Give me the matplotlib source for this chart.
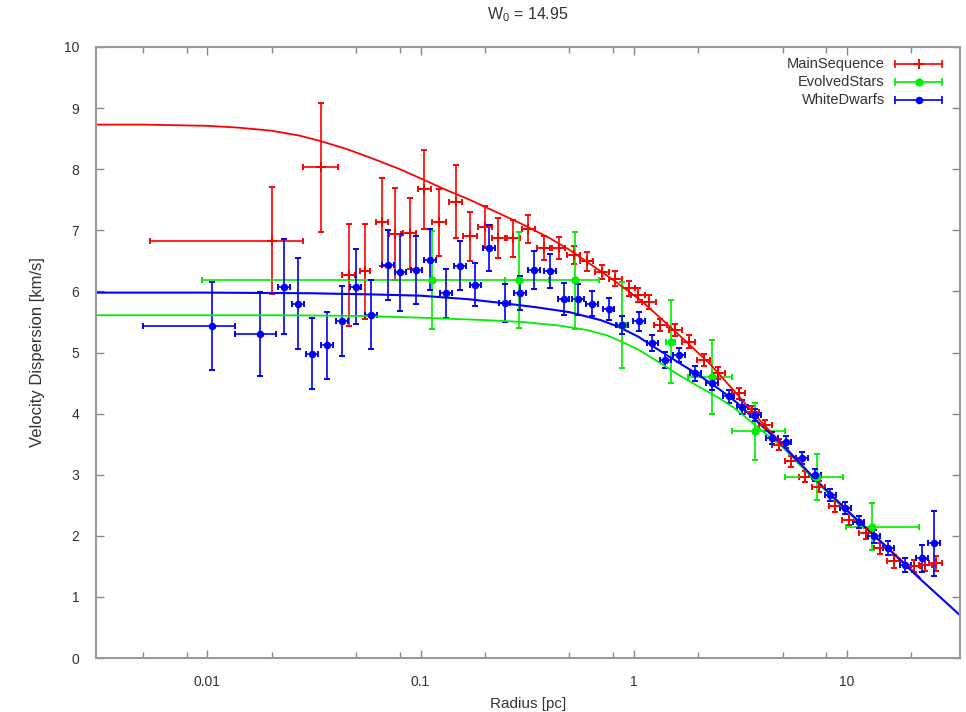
import numpy as np
import matplotlib
matplotlib.use('Agg')
import matplotlib.pyplot as plt

plt.rcParams['font.family'] = ['Liberation Sans', 'DejaVu Sans']

# MainSequence data
ms_r = [0.02, 0.034, 0.046, 0.055, 0.066, 0.076, 0.089, 0.104, 0.122, 0.146, 0.171, 0.201,
        0.232, 0.273, 0.321, 0.378, 0.445, 0.523, 0.601, 0.71, 0.82, 0.95, 1.05, 1.18, 1.33,
        1.57, 1.81, 2.13, 2.5, 3.11, 3.59, 4.15, 4.79, 5.5, 6.4, 7.39, 8.84, 10.2, 12.3, 14.4,
        16.6, 20.6, 23.4, 26.1]
ms_r_lo = [0.0054, 0.028, 0.043, 0.052, 0.062, 0.071, 0.083, 0.097, 0.113, 0.136, 0.159, 0.187,
           0.216, 0.254, 0.299, 0.352, 0.414, 0.486, 0.559, 0.66, 0.763, 0.884, 0.977, 1.10, 1.24,
           1.46, 1.68, 1.98, 2.33, 2.89, 3.34, 3.86, 4.45, 5.12, 5.95, 6.87, 8.22, 9.49, 11.4, 13.4,
           15.4, 19.2, 21.8, 24.3]
ms_r_hi = [0.028, 0.041, 0.049, 0.058, 0.070, 0.081, 0.095, 0.112, 0.131, 0.157, 0.184, 0.216,
           0.249, 0.293, 0.345, 0.406, 0.478, 0.562, 0.646, 0.763, 0.881, 1.02, 1.13, 1.27, 1.43,
           1.69, 1.95, 2.29, 2.69, 3.34, 3.86, 4.46, 5.15, 5.91, 6.88, 7.94, 9.5, 10.97, 13.2, 15.5,
           17.8, 22.1, 25.2, 28.1]
ms_v = [6.83, 8.03, 6.27, 6.33, 7.14, 6.94, 6.95, 7.67, 7.13, 7.47, 6.9, 7.06, 6.87, 6.87, 7.02,
        6.71, 6.71, 6.6, 6.49, 6.32, 6.21, 6.05, 5.94, 5.83, 5.45, 5.37, 5.18, 4.88, 4.66, 4.33,
        4.03, 3.81, 3.49, 3.22, 2.97, 2.8, 2.48, 2.26, 2.04, 1.8, 1.58, 1.5, 1.52, 1.55]
ms_err = [0.88, 1.05, 0.83, 0.78, 0.72, 0.75, 0.58, 0.65, 0.55, 0.6, 0.4, 0.33, 0.33, 0.3, 0.23,
          0.2, 0.18, 0.15, 0.15, 0.12, 0.12, 0.12, 0.11, 0.11, 0.1, 0.1, 0.1, 0.1, 0.1, 0.09,
          0.09, 0.09, 0.09, 0.09, 0.09, 0.09, 0.09, 0.09, 0.09, 0.09, 0.1, 0.1, 0.1, 0.12]

# EvolvedStars data
es_r = [0.113, 0.29, 0.53, 0.88, 1.49, 2.33, 3.73, 7.26, 13.1]
es_r_lo = [0.0094, 0.25, 0.40, 0.84, 1.42, 1.8, 2.89, 5.15, 9.9]
es_r_hi = [0.25, 0.40, 0.69, 0.92, 1.56, 2.9, 5.15, 9.65, 21.8]
es_v = [6.19, 6.19, 6.18, 5.45, 5.18, 4.6, 3.71, 2.96, 2.15]
es_err = [0.8, 0.79, 0.8, 0.7, 0.68, 0.6, 0.47, 0.38, 0.38]

# WhiteDwarfs data
wd_r = [0.0105, 0.0177, 0.0228, 0.0266, 0.0309, 0.0363, 0.0427, 0.0496, 0.0585, 0.0703, 0.0804,
        0.0955, 0.111, 0.131, 0.153, 0.181, 0.209, 0.248, 0.292, 0.34, 0.404, 0.469, 0.547,
        0.638, 0.763, 0.881, 1.06, 1.22, 1.41, 1.63, 1.95, 2.33, 2.79, 3.23, 3.72, 4.46, 5.16,
        6.17, 7.1, 8.38, 9.86, 11.4, 13.4, 15.7, 18.8, 22.5, 25.6]
wd_r_lo = [0.005, 0.0135, 0.0214, 0.025, 0.029, 0.0341, 0.0401, 0.0466, 0.055, 0.0661, 0.0756,
           0.0898, 0.104, 0.123, 0.144, 0.17, 0.196, 0.233, 0.274, 0.32, 0.38, 0.441, 0.514,
           0.6, 0.717, 0.828, 0.996, 1.15, 1.33, 1.53, 1.83, 2.19, 2.62, 3.04, 3.5, 4.19, 4.85,
           5.8, 6.67, 7.88, 9.27, 10.7, 12.6, 14.8, 17.7, 21.2, 24.1]
wd_r_hi = [0.0135, 0.0209, 0.0243, 0.0283, 0.0329, 0.0387, 0.0455, 0.0528, 0.0623, 0.0749, 0.0856,
           0.1017, 0.118, 0.14, 0.163, 0.193, 0.223, 0.264, 0.311, 0.362, 0.43, 0.5, 0.583,
           0.68, 0.813, 0.938, 1.13, 1.3, 1.5, 1.74, 2.08, 2.48, 2.97, 3.44, 3.96, 4.75, 5.5,
           6.57, 7.56, 8.92, 10.5, 12.1, 14.3, 16.7, 20.0, 24.0, 27.3]
wd_v = [5.43, 5.3, 6.08, 5.8, 4.98, 5.12, 5.52, 6.08, 5.62, 6.43, 6.31, 6.35, 6.52, 5.97, 6.42,
        6.11, 6.71, 5.81, 5.98, 6.35, 6.33, 5.87, 5.87, 5.8, 5.72, 5.45, 5.51, 5.15, 4.88, 4.96,
        4.66, 4.5, 4.28, 4.11, 3.98, 3.6, 3.54, 3.27, 3.0, 2.67, 2.45, 2.23, 1.99, 1.8, 1.52,
        1.63, 1.88]
wd_err = [0.72, 0.69, 0.77, 0.74, 0.58, 0.55, 0.57, 0.62, 0.57, 0.57, 0.63, 0.55, 0.5, 0.4, 0.4,
          0.35, 0.38, 0.31, 0.28, 0.31, 0.28, 0.26, 0.25, 0.2, 0.18, 0.15, 0.15, 0.13, 0.13, 0.12,
          0.12, 0.11, 0.11, 0.11, 0.1, 0.1, 0.1, 0.1, 0.1, 0.1, 0.1, 0.1, 0.1, 0.11, 0.12, 0.22,
          0.53]

# model curves
ms_model_r = [0.003, 0.005, 0.007, 0.01, 0.014, 0.02, 0.027, 0.034, 0.045, 0.06, 0.08, 0.1,
              0.13, 0.17, 0.22, 0.3, 0.4, 0.5, 0.6, 0.75, 0.9, 1.1, 1.4, 1.8, 2.3, 3.0, 4.0,
              5, 7, 10, 15, 22]
ms_model_v = [8.73, 8.73, 8.72, 8.71, 8.68, 8.63, 8.55, 8.46, 8.33, 8.17, 8.0, 7.85,
              7.67, 7.5, 7.32, 7.1, 6.88, 6.68, 6.49, 6.26, 6.06, 5.83, 5.5, 5.15, 4.8, 4.35, 3.85,
              3.5, 2.95, 2.42, 1.86, 1.32]
es_model_r = [0.003, 0.02, 0.05, 0.1, 0.2, 0.3, 0.45, 0.6, 0.75, 0.85, 1.05, 1.3, 1.6, 2.0,
              2.5, 3.0, 4, 5, 7, 10, 15]
es_model_v = [5.61, 5.61, 5.6, 5.57, 5.53, 5.5, 5.44, 5.37, 5.28, 5.2, 5.05, 4.85, 4.65, 4.45,
              4.26, 4.08, 3.72, 3.45, 2.93, 2.4, 1.85]
wd_model_r = [0.003, 0.01, 0.03, 0.06, 0.1, 0.17, 0.24, 0.35, 0.5, 0.7, 0.85, 1.05, 1.3, 1.6,
              2.0, 2.5, 3.0, 4, 5, 7, 10, 15, 22, 34]
wd_model_v = [5.98, 5.98, 5.97, 5.95, 5.93, 5.87, 5.81, 5.74, 5.66, 5.53, 5.42, 5.26, 5.05, 4.85,
              4.64, 4.41, 4.2, 3.8, 3.48, 2.95, 2.42, 1.85, 1.3, 0.7]

RED, GREEN, BLUE = '#ff0000', '#00ee00', '#0000ff'
TXT = '#333333'

fig = plt.figure(figsize=(9.66, 7.12), dpi=100)
ax = fig.add_axes([96/966, 1 - 658/712, 864/966, 611/712])


def draw(r, lo, hi, v, err, col, mk, size):
    r = np.array(r)
    xe = [r - np.array(lo), np.array(hi) - r]
    ax.errorbar(r, v, xerr=xe, yerr=err, fmt=mk, color=col, ms=size, mew=1.4,
                elinewidth=1.2, capsize=2.5, capthick=1.2)


draw(ms_r, ms_r_lo, ms_r_hi, ms_v, ms_err, RED, '+', 6.5)
draw(es_r, es_r_lo, es_r_hi, es_v, es_err, GREEN, 'o', 4.5)
draw(wd_r, wd_r_lo, wd_r_hi, wd_v, wd_err, BLUE, 'o', 4)

ax.plot(ms_model_r, ms_model_v, color=RED, lw=1.3)
ax.plot(es_model_r, es_model_v, color=GREEN, lw=1.3)
ax.plot(wd_model_r, wd_model_v, color=BLUE, lw=1.5)

ax.set_xscale('log')
ax.set_xlim(0.003, 34)
ax.set_ylim(0, 10)

ax.set_xticks([0.01, 0.1, 1, 10])
ax.set_xticklabels(['0.01', '0.1', '1', '10'])
minors = [m * d for d in [0.001, 0.01, 0.1, 1, 10] for m in (2, 5, 8)]
ax.set_xticks([m for m in minors if 0.003 < m < 34], minor=True)
ax.set_yticks(range(0, 11))

for s in ax.spines.values():
    s.set_color('#999999')
    s.set_linewidth(1.5)
ax.tick_params(which='both', direction='in', top=True, right=True, colors='#888888',
               labelcolor=TXT, labelsize=10)
ax.tick_params(which='major', length=6, width=1)
ax.tick_params(which='minor', length=4, width=1)
ax.tick_params(axis='x', pad=12)
ax.tick_params(axis='y', pad=12)

ax.set_xlabel('Radius [pc]', fontsize=11, color=TXT, labelpad=6)
ax.set_ylabel('Velocity Dispersion [km/s]', fontsize=12, color=TXT, labelpad=14)
ax.text(0.5, 1 + 32/611, r'$\mathregular{W_0}$ = 14.95', transform=ax.transAxes,
        ha='center', va='center', fontsize=11.5, color=TXT)

# legend drawn by hand so the text is right aligned like gnuplot
labels = ['MainSequence', 'EvolvedStars', 'WhiteDwarfs']
cols = [RED, GREEN, BLUE]
marks = [('+', 6.5), ('o', 4.5), ('o', 4)]
rows = [0.972, 0.943, 0.913]
for lab, col, (mk, sz), yy in zip(labels, cols, marks, rows):
    ax.text(0.913, yy, lab, transform=ax.transAxes, ha='right', va='center',
            fontsize=10.5, color=TXT)
    ax.plot([0.925, 0.979], [yy, yy], transform=ax.transAxes, color=col, lw=1.2,
            clip_on=False)
    ax.plot([0.925, 0.979], [yy, yy], transform=ax.transAxes, ls='none', marker='|',
            ms=6, mew=1.2, color=col, clip_on=False)
    ax.plot([0.952], [yy], transform=ax.transAxes, ls='none', marker=mk, ms=sz,
            mew=1.4, color=col, clip_on=False)

fig.savefig('out.png', dpi=100)
